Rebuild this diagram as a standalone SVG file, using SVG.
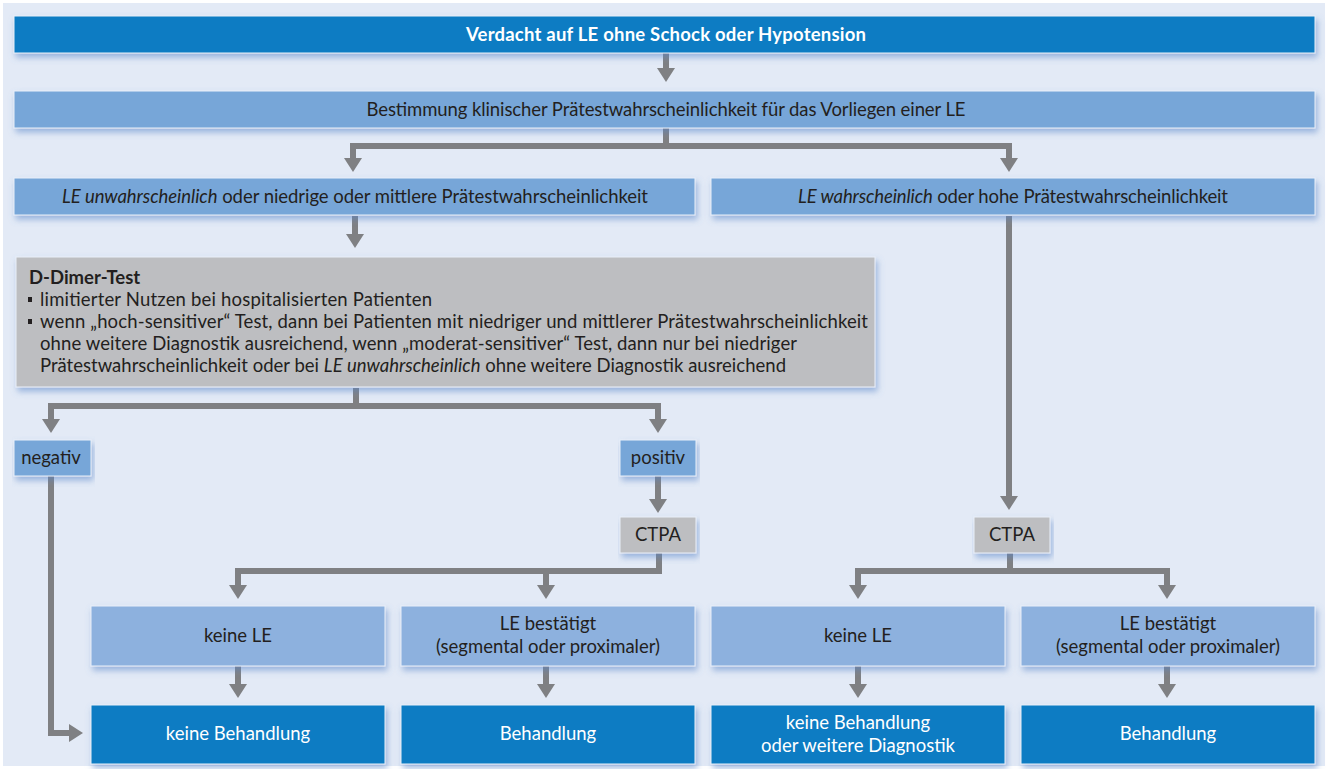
<svg xmlns="http://www.w3.org/2000/svg" width="1328" height="769" viewBox="0 0 1328 769">
<defs>
<filter id="sh" x="-5%" y="-20%" width="110%" height="150%">
<feGaussianBlur in="SourceAlpha" stdDeviation="3"/>
<feOffset dx="2" dy="4" result="b"/>
<feFlood flood-color="#5a86c8" flood-opacity="0.55"/>
<feComposite in2="b" operator="in"/>
<feMerge><feMergeNode/><feMergeNode in="SourceGraphic"/></feMerge>
</filter>
<marker id="ah" viewBox="0 -9 14 18" refX="0" refY="0" markerWidth="14" markerHeight="18" markerUnits="userSpaceOnUse" orient="auto">
<path d="M0,-9 L14,0 L0,9 z" fill="#7f8083"/>
</marker>
<style>
text{font-family:Lato,"Liberation Sans",sans-serif;font-size:18.5px;fill:#231f20;text-anchor:middle}
.w{fill:#fff}
.b{font-weight:bold}
.l{text-anchor:start}
.i{font-style:italic}
.dk rect{fill:#0a7cc3}
.md rect{fill:#77a6d8}
.lt rect{fill:#8db1de}
.gr rect{fill:#bdbec1}
rect{stroke:#e9f0fa;stroke-width:1;filter:url(#sh)}
.gr rect.bul{fill:#231f20;stroke:none;filter:none}
rect.bg{stroke:none;filter:none}
#connectors path{fill:none;stroke:#7f8083;stroke-width:6;marker-end:url(#ah)}
</style>
</defs>
<rect class="bg" x="0" y="0" width="1328" height="769" fill="#ffffff"/>
<rect class="bg" x="3" y="3" width="1322" height="763" fill="#e3eaf6"/>

<g id="connectors">
<path d="M666,53 V68"/>
<path d="M666,128 V146 H353 V158"/>
<path d="M666,146 H1009 V158"/>
<path d="M355,216 V234"/>
<path d="M356,388 V406 H51 V419"/>
<path d="M356,406 H658 V419"/>
<path d="M51,476 V733 H69"/>
<path d="M658,476 V499"/>
<path d="M659,553 V571 H238 V585"/>
<path d="M546,571 V585"/>
<path d="M238,666 V684"/>
<path d="M546,666 V684"/>
<path d="M1009,216 V496"/>
<path d="M1010,553 V571 H858 V585"/>
<path d="M1010,571 H1167 V585"/>
<path d="M858,666 V684"/>
<path d="M1167,666 V684"/>
</g>

<g id="n1" class="dk"><rect x="14" y="16" width="1301" height="37"/><text class="w b" x="666" y="41" textLength="400">Verdacht auf LE ohne Schock oder Hypotension</text></g>
<g id="n2" class="md"><rect x="14" y="91" width="1301" height="37"/><text x="666" y="116" textLength="599">Bestimmung klinischer Prätestwahrscheinlichkeit für das Vorliegen einer LE</text></g>
<g id="n3" class="md"><rect x="14" y="178" width="681" height="37"/><text x="355" y="203" textLength="586"><tspan class="i">LE unwahrscheinlich</tspan> oder niedrige oder mittlere Prätestwahrscheinlichkeit</text></g>
<g id="n4" class="md"><rect x="711" y="178" width="604" height="37"/><text x="1013" y="203" textLength="430"><tspan class="i">LE wahrscheinlich</tspan> oder hohe Prätestwahrscheinlichkeit</text></g>
<g id="n5" class="gr"><rect x="16" y="257" width="859" height="130"/>
<text class="l b" x="29" y="284">D-Dimer-Test</text>
<rect class="bul" x="28" y="297" width="4" height="5"/>
<text class="l" x="40" y="306" textLength="392">limitierter Nutzen bei hospitalisierten Patienten</text>
<rect class="bul" x="28" y="319" width="4" height="5"/>
<text class="l" x="40" y="328" textLength="828">wenn „hoch-sensitiver“ Test, dann bei Patienten mit niedriger und  mittlerer Prätestwahrscheinlichkeit</text>
<text class="l" x="40" y="350" textLength="757">ohne weitere Diagnostik ausreichend, wenn „moderat-sensitiver“ Test, dann nur bei niedriger</text>
<text class="l" x="40" y="372" textLength="746">Prätestwahrscheinlichkeit oder bei <tspan class="i">LE unwahrscheinlich</tspan> ohne weitere Diagnostik ausreichend</text>
</g>
<g id="n6" class="md"><rect x="14" y="440" width="77" height="36"/><text x="51" y="464">negativ</text></g>
<g id="n7" class="md"><rect x="620" y="440" width="76" height="36"/><text x="658" y="464">positiv</text></g>
<g id="n8" class="gr"><rect x="620" y="517" width="76" height="36"/><text x="658" y="541">CTPA</text></g>
<g id="n9" class="gr"><rect x="974" y="517" width="76" height="36"/><text x="1012" y="541">CTPA</text></g>
<g id="n10" class="lt"><rect x="91" y="606" width="294" height="60"/><text x="238" y="642">keine LE</text></g>
<g id="n11" class="lt"><rect x="401" y="606" width="294" height="60"/><text x="548" y="630">LE bestätigt</text><text x="548" y="653">(segmental oder proximaler)</text></g>
<g id="n12" class="lt"><rect x="711" y="606" width="294" height="60"/><text x="858" y="642">keine LE</text></g>
<g id="n13" class="lt"><rect x="1021" y="606" width="294" height="60"/><text x="1168" y="630">LE bestätigt</text><text x="1168" y="653">(segmental oder proximaler)</text></g>
<g id="n14" class="dk"><rect x="91" y="705" width="294" height="59"/><text class="w" x="238" y="740">keine Behandlung</text></g>
<g id="n15" class="dk"><rect x="401" y="705" width="294" height="59"/><text class="w" x="548" y="740">Behandlung</text></g>
<g id="n16" class="dk"><rect x="711" y="705" width="294" height="59"/><text class="w" x="858" y="729">keine Behandlung</text><text class="w" x="858" y="752">oder weitere Diagnostik</text></g>
<g id="n17" class="dk"><rect x="1021" y="705" width="294" height="59"/><text class="w" x="1168" y="740">Behandlung</text></g>
</svg>
